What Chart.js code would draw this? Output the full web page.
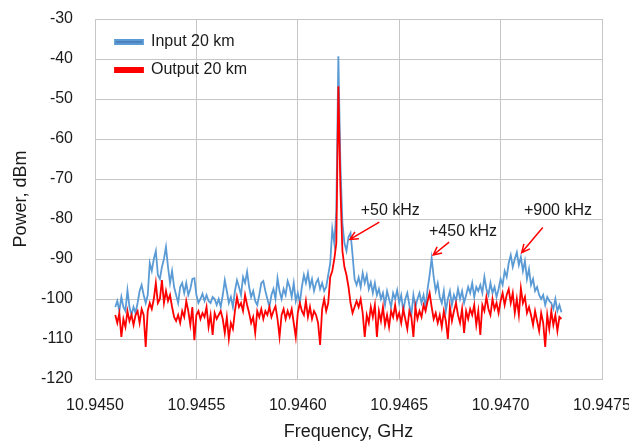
<!DOCTYPE html>
<html>
<head>
<meta charset="utf-8">
<script src="https://cdn.jsdelivr.net/npm/chart.js@4.4.1/dist/chart.umd.min.js"></script>
<style>
  html, body { margin: 0; padding: 0; background: #fff; }
  #wrap { width: 629px; height: 441px; }
</style>
</head>
<body>
<div id="wrap"><canvas id="spectrumChart" width="629" height="441"></canvas></div>
<script>
        // Spectrum bins: 10 kHz steps starting at 10.94510 GHz
        const freqStart = 10.94510;
        const freqStep = 0.00001;

        // Input 20 km (dBm)
        const inputPower = [
            -102, -100.5, -103, -99.5, -102,
            -103, -97.8, -102, -104, -102,
            -103.5, -101, -98, -96.5, -99,
            -101, -99, -91, -93, -90,
            -88, -94, -95, -92, -90,
            -87, -92, -96, -93, -97,
            -99, -101, -97, -96, -98.5,
            -96, -99, -97.5, -95, -94.8,
            -99, -101, -100, -98.7, -100.5,
            -99, -100.5, -101, -99.5, -100,
            -101.5, -100, -102, -99, -95.3,
            -98, -101, -99.5, -102, -98,
            -95.3, -97, -99, -94.5, -96,
            -93.2, -97, -99.5, -98, -100.5,
            -101.5, -99, -96, -95.5, -98,
            -100, -102, -99, -97.5, -100,
            -94.8, -98, -100, -97.5, -99,
            -95.5, -97, -99.5, -96, -100.5,
            -98.5, -101, -97, -94, -96,
            -93.5, -97, -95, -98, -96,
            -95, -97.5, -96, -98, -97,
            -94, -91, -82.5, -86, -78,
            -39.3, -66, -81, -86, -88,
            -84.5, -83.5, -89, -95, -96.5,
            -94.6, -97, -93.5, -96, -94,
            -97.5, -95.8, -98.5, -96, -99,
            -97.5, -100, -98.5, -101.5, -98,
            -100, -102, -98.5, -100, -97.8,
            -101, -99, -103, -100, -98.5,
            -101.5, -104, -99, -102, -100,
            -98.5, -101, -99, -102, -97.5,
            -94, -89.8, -94.5, -98, -96,
            -99.5, -101, -98, -103, -100,
            -98, -101.5, -99, -100.5, -97.5,
            -100, -98, -101, -99, -97,
            -98.5, -96, -99.5, -97, -98,
            -96.5, -98.5, -94.5, -97.5, -99,
            -96, -98.5, -97, -99.5, -97.5,
            -95, -96.5, -93, -94.5, -91,
            -89, -92, -90, -88.3, -91.5,
            -89.5, -93, -90.5, -95, -92.5,
            -96.5, -95, -98, -97, -99,
            -100, -99, -101.5, -99.5, -100.5,
            -101, -102.5, -100, -103, -101.5, -103.3
        ];

        // Output 20 km (dBm)
        const outputPower = [
            -104, -106, -103.5, -109.5, -105,
            -107, -103, -105.5, -104, -106.5,
            -104, -103, -106, -102.5, -104,
            -112, -103, -101, -102.5, -100,
            -96, -101, -100, -95.3, -101,
            -98, -100.5, -99, -102, -104.5,
            -105.5, -104, -106, -103, -104.5,
            -100.5, -103, -106.5, -102, -110.3,
            -104, -103, -105, -103.5, -104.5,
            -102, -107, -104, -109, -103.5,
            -105, -104, -103, -105, -108.5,
            -104.5, -110, -106, -107.5, -103,
            -99.5, -102, -101, -103, -99,
            -101.5, -103.5, -106, -104.5, -108.5,
            -103, -104.5, -102.5, -105, -103,
            -104, -102, -104.5, -103, -101.8,
            -105, -109.5, -104, -102.5, -105,
            -103, -104.5, -102.5, -106, -109.5,
            -103.5, -101, -103, -104, -100.5,
            -104.5, -102, -105, -103, -104,
            -106, -111.5, -102.5, -100, -103,
            -101, -94.5, -93, -90, -86,
            -46.8, -72, -88, -92, -94,
            -97, -101, -103.5, -102, -100.5,
            -102, -100, -103.5, -109.5, -104,
            -106, -102, -104.5, -101.5, -109.5,
            -103, -105.5, -102, -106.5, -104,
            -107, -103, -104.5, -101.5, -105,
            -103.5, -106, -102.5, -105, -107.5,
            -103, -104.5, -109.5, -102, -105,
            -103, -104.5, -101.5, -103, -100.5,
            -98.5, -102, -105, -103.5, -106,
            -104, -107, -103, -105.5, -110,
            -102, -105.5, -103, -101, -104,
            -106, -102.5, -108.5, -103, -105,
            -102.5, -104, -101.5, -106.5, -103,
            -109, -101.5, -103, -99.5, -102.5,
            -104, -100, -102.5, -101, -103.5,
            -100.5, -98.5, -101.5, -99, -97.5,
            -101, -98.5, -103.5, -100, -104,
            -97.3, -101, -99.5, -103.5, -102,
            -104, -106.5, -103, -105.5, -108,
            -103.5, -106, -112, -104, -107.5,
            -103, -106.5, -104, -108, -104.5, -105
        ];

        const xTicks = [10.9450, 10.9455, 10.9460, 10.9465, 10.9470, 10.9475];
        const yTicks = [-120, -110, -100, -90, -80, -70, -60, -50, -40, -30];

        // Sideband notes: label position, arrow tail, arrow head (GHz, dBm)
        const noteLabels = ['+50 kHz', '+450 kHz', '+900 kHz'];
        const noteTextAt = [[10.94631, -78], [10.946647, -83.25], [10.947115, -78]];
        const noteArrowFrom = [[10.946402, -80.8], [10.946746, -85.8], [10.947208, -82.1]];
        const noteArrowTo = [[10.946257, -85.1], [10.946668, -89.0], [10.947104, -88.4]];

        const toPoints = arr => arr.map((p, i) => ({ x: freqStart + i * freqStep, y: p }));

        const FONT = 'Liberation Sans, Arial, sans-serif';

        const noteArrows = {
            id: 'noteArrows',
            afterDatasetsDraw(chart) {
                const { ctx, scales: { x, y } } = chart;
                ctx.save();
                ctx.font = '16px ' + FONT;
                ctx.fillStyle = '#1a1a1a';
                ctx.textBaseline = 'middle';
                ctx.textAlign = 'left';
                noteLabels.forEach((txt, i) => {
                    ctx.fillText(txt, x.getPixelForValue(noteTextAt[i][0]), y.getPixelForValue(noteTextAt[i][1]));
                });
                ctx.strokeStyle = '#ff0000';
                ctx.lineWidth = 1.5;
                noteArrowFrom.forEach((from, i) => {
                    const x1 = x.getPixelForValue(from[0]), y1 = y.getPixelForValue(from[1]);
                    const x2 = x.getPixelForValue(noteArrowTo[i][0]), y2 = y.getPixelForValue(noteArrowTo[i][1]);
                    const ang = Math.atan2(y2 - y1, x2 - x1);
                    const head = 9;
                    ctx.beginPath();
                    ctx.moveTo(x1, y1);
                    ctx.lineTo(x2, y2);
                    ctx.moveTo(x2 - head * Math.cos(ang - 0.45), y2 - head * Math.sin(ang - 0.45));
                    ctx.lineTo(x2, y2);
                    ctx.lineTo(x2 - head * Math.cos(ang + 0.45), y2 - head * Math.sin(ang + 0.45));
                    ctx.stroke();
                });
                ctx.restore();
            }
        };

        // put the legend inside the plot, top-left like the original
        const legendNudge = {
            id: 'legendNudge',
            afterLayout(chart) {
                if (chart.legend) {
                    chart.legend.left = chart.chartArea.left + 8;
                    chart.legend.top = chart.chartArea.top + 3;
                }
            }
        };

        const ctx = document.getElementById('spectrumChart').getContext('2d');
        new Chart(ctx, {
            type: 'scatter',
            data: {
                datasets: [{
                    label: 'Output 20 km',
                    data: toPoints(outputPower),
                    borderColor: '#ff0000',
                    backgroundColor: '#ff0000',
                    showLine: true,
                    borderWidth: 1.8,
                    pointRadius: 0,
                    tension: 0
                }, {
                    label: 'Input 20 km',
                    data: toPoints(inputPower),
                    borderColor: '#5b9bd5',
                    backgroundColor: '#4f81bd',
                    showLine: true,
                    borderWidth: 1.8,
                    pointRadius: 0,
                    tension: 0
                }]
            },
            options: {
                responsive: false,
                animation: false,
                devicePixelRatio: 1,
                layout: { padding: { left: 0, right: 27, top: 19, bottom: 0 } },
                plugins: {
                    tooltip: { enabled: false },
                    legend: {
                        position: 'chartArea',
                        align: 'start',
                        reverse: true,
                        labels: {
                            boxWidth: 28,
                            boxHeight: 4,
                            padding: 12,
                            color: '#1a1a1a',
                            font: { family: FONT, size: 16 }
                        }
                    }
                },
                scales: {
                    x: {
                        type: 'linear',
                        min: 10.9450,
                        max: 10.9475,
                        afterBuildTicks: s => { s.ticks = xTicks.map(v => ({ value: v })); },
                        afterFit: s => { s.height = 62; s.paddingLeft = 0; s.paddingRight = 0; },
                        grid: { color: '#c6c6c6', drawTicks: false },
                        border: { color: '#c6c6c6' },
                        ticks: {
                            padding: 17,
                            color: '#1a1a1a',
                            font: { family: FONT, size: 16 },
                            maxRotation: 0,
                            callback: v => v.toFixed(4)
                        },
                        title: {
                            display: true,
                            text: 'Frequency, GHz',
                            color: '#1a1a1a',
                            font: { family: FONT, size: 18, lineHeight: 1 },
                            padding: { top: 0, bottom: 0 }
                        }
                    },
                    y: {
                        min: -120,
                        max: -30,
                        afterBuildTicks: s => { s.ticks = yTicks.map(v => ({ value: v })); },
                        afterFit: s => { s.width = 95; s.paddingTop = 0; s.paddingBottom = 0; },
                        grid: { color: '#c6c6c6', drawTicks: false },
                        border: { color: '#c6c6c6' },
                        ticks: {
                            padding: 22,
                            color: '#1a1a1a',
                            font: { family: FONT, size: 16 }
                        },
                        title: {
                            display: true,
                            text: 'Power, dBm',
                            color: '#1a1a1a',
                            font: { family: FONT, size: 18 },
                            padding: { top: 10, bottom: 0 }
                        }
                    }
                }
            },
            plugins: [noteArrows, legendNudge]
        });
</script>
</body>
</html>
